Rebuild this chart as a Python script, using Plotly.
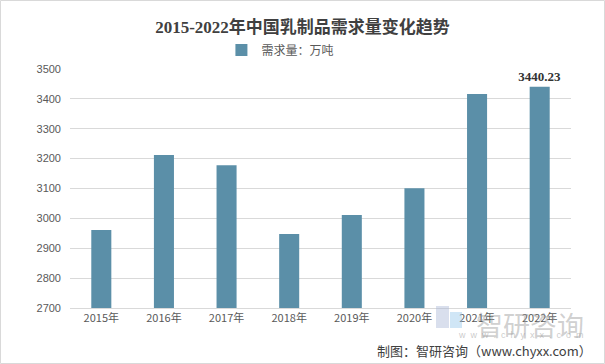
import plotly.graph_objects as go

years = ["2015年", "2016年", "2017年", "2018年", "2019年", "2020年", "2021年", "2022年"]
demand = [2961, 3212, 3178, 2948, 3011, 3101, 3416, 3440.23]
labels = ["", "", "", "", "", "", "", "<b>3440.23</b>"]
series_name = "需求量：万吨"
title = "2015-2022年中国乳制品需求量变化趋势"
source = "制图：智研咨询（www.chyxx.com）"

cjk = "Noto Sans CJK SC"
fig = go.Figure()
fig.add_trace(go.Bar(
    x=years, y=demand, name=series_name,
    marker=dict(color="#5b8fa8", line=dict(width=0)),
    width=0.32,
    text=labels, textposition="outside", constraintext="none",
    textfont=dict(family="Liberation Serif, " + cjk, size=13, color="#333333"),
    cliponaxis=False,
))
fig.update_layout(
    width=605, height=364,
    paper_bgcolor="white", plot_bgcolor="white",
    margin=dict(l=70, r=34, t=69, b=56),
    title=dict(text="<b>" + title + "</b>", x=0.5, xanchor="center", y=0.925, yanchor="middle",
               font=dict(family="Liberation Serif, " + cjk, size=17, color="#404040")),
    showlegend=True,
    legend=dict(orientation="h", x=0.42, xanchor="center", y=1.08, yanchor="middle",
                font=dict(family=cjk, size=12, color="#595959"), itemwidth=30,
                bgcolor="rgba(0,0,0,0)"),
    xaxis=dict(showgrid=False, showline=True, linecolor="#d9d9d9", linewidth=1,
               tickfont=dict(family=cjk, size=11, color="#595959"), ticks=""),
    yaxis=dict(range=[2700, 3500], dtick=100, showgrid=True, gridcolor="#d9d9d9",
               gridwidth=1, zeroline=False, showline=False,
               tickfont=dict(family="Liberation Sans, " + cjk, size=11, color="#595959"),
               ticks="", ticklabelstandoff=8),
)
fig.add_shape(type="rect", xref="paper", yref="paper", x0=-69.5/501, x1=1+33.5/501,
              y0=-55.5/239, y1=1+68.5/239, line=dict(color="#d9d9d9", width=1))
# watermark logo blocks
fig.add_shape(type="rect", xref="paper", yref="paper", x0=(436-70)/501, x1=(449-70)/501,
              y0=(308-328)/239, y1=(308-306)/239, line=dict(width=0),
              fillcolor="rgba(170,185,215,0.45)")
fig.add_shape(type="rect", xref="paper", yref="paper", x0=(450-70)/501, x1=(462-70)/501,
              y0=(308-328)/239, y1=(308-312)/239, line=dict(width=0),
              fillcolor="rgba(150,200,235,0.45)")
fig.add_annotation(text="智研咨询", xref="paper", yref="paper", x=(586-70)/501, y=(308-303)/239,
                   xanchor="right", yanchor="top", showarrow=False,
                   font=dict(family=cjk, size=27, color="rgba(150,150,150,0.45)"))
fig.add_annotation(text="w  w  w  .  c  h  y  x  x  .  c  o  m", xref="paper", yref="paper",
                   x=(586-70)/501, y=(308-328)/239,
                   xanchor="right", yanchor="top", showarrow=False,
                   font=dict(family="Liberation Sans", size=9, color="rgba(150,150,150,0.5)"))
fig.add_annotation(text=source, xref="paper", yref="paper", x=(594-70)/501, y=(308-350)/239,
                   xanchor="right", yanchor="middle", showarrow=False,
                   font=dict(family=cjk, size=13, color="#404040"))
fig.write_html("out.html", config={"displayModeBar": False},
               post_script="document.body.style.margin='0';document.body.style.overflow='hidden';")
